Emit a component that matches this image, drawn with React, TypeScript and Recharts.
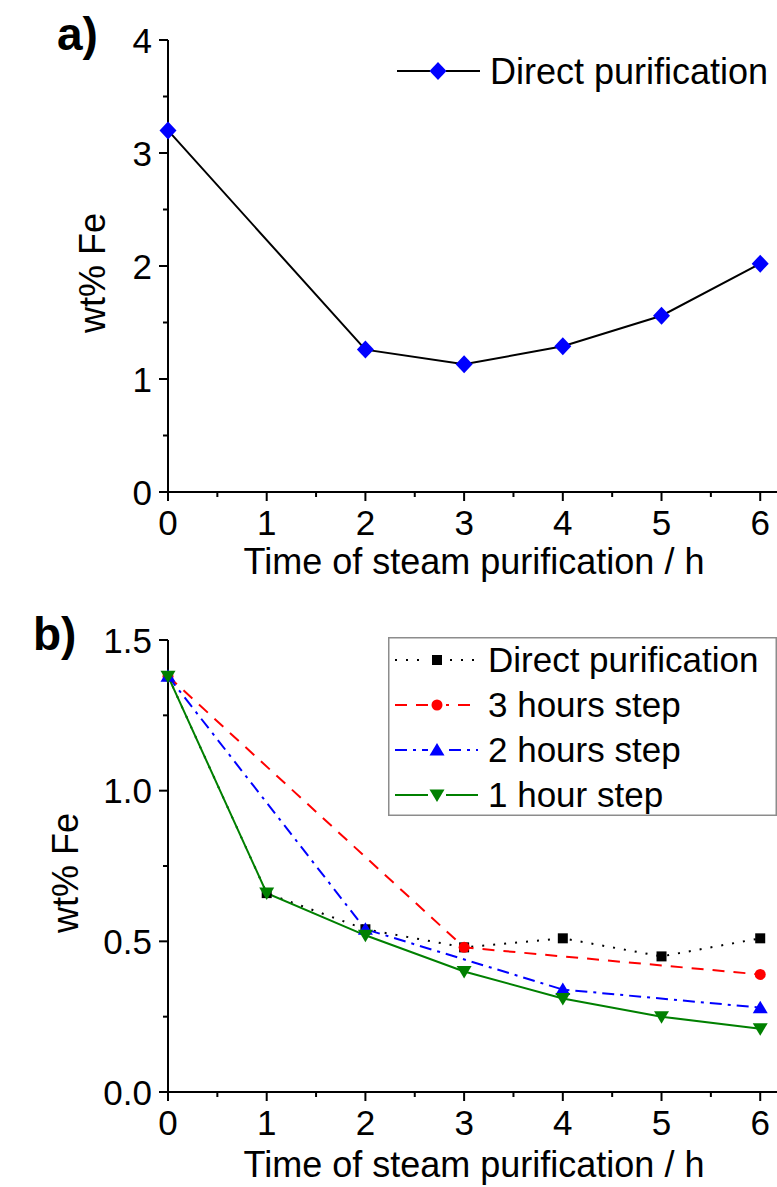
import React from "react";
import { LineChart, Line, XAxis, YAxis, Legend, Label } from "recharts";

const FONT = '"Liberation Sans", Arial, Helvetica, sans-serif';

// panel a) – direct purification only
const HOURS_A = [0, 2, 3, 4, 5, 6];
const FE_DIRECT_A = [3.2, 1.26, 1.13, 1.29, 1.56, 2.02];

// panel b) – stepwise purification
const HOURS_DIRECT = [0, 1, 2, 3, 4, 5, 6];
const FE_DIRECT_B = [1.38, 0.66, 0.54, 0.48, 0.51, 0.45, 0.51];
const HOURS_STEP3 = [0, 3, 6];
const FE_STEP3 = [1.38, 0.48, 0.39];
const HOURS_STEP2 = [0, 2, 4, 6];
const FE_STEP2 = [1.38, 0.54, 0.34, 0.28];
const HOURS_STEP1 = [0, 1, 2, 3, 4, 5, 6];
const FE_STEP1 = [1.38, 0.66, 0.52, 0.4, 0.31, 0.25, 0.21];

const X_TICKS = [0, 0.5, 1, 1.5, 2, 2.5, 3, 3.5, 4, 4.5, 5, 5.5, 6];
const Y_TICKS_A = [0, 0.5, 1, 1.5, 2, 2.5, 3, 3.5, 4];
const Y_TICKS_B = [0, 0.25, 0.5, 0.75, 1, 1.25, 1.5];

const X_TITLE = "Time of steam purification / h";
const Y_TITLE = "wt% Fe";
const X_MAX = 6.17;

const CHART_W = 777;
const AXIS_W = 168;
const XAXIS_H = 80;

type Shape = "diamond" | "square" | "circle" | "up" | "down";

const SERIES_B = [
  { name: "Direct purification", xs: HOURS_DIRECT, ys: FE_DIRECT_B, color: "#000000", dash: "2 9", shape: "square" as Shape },
  { name: "3 hours step", xs: HOURS_STEP3, ys: FE_STEP3, color: "#ff0000", dash: "12 9", shape: "circle" as Shape },
  { name: "2 hours step", xs: HOURS_STEP2, ys: FE_STEP2, color: "#0000ff", dash: "12 6 3 6", shape: "up" as Shape },
  { name: "1 hour step", xs: HOURS_STEP1, ys: FE_STEP1, color: "#008000", dash: undefined, shape: "down" as Shape },
];

const toRows = (xs: number[], ys: number[]) => xs.map((h, i) => ({ hour: h, fe: ys[i] }));

function Marker({ shape, cx, cy, fill }: { shape: Shape; cx?: number; cy?: number; fill: string }) {
  if (cx == null || cy == null) return null;
  switch (shape) {
    case "diamond":
      return <path d={`M${cx},${cy - 9}L${cx + 8.5},${cy}L${cx},${cy + 9}L${cx - 8.5},${cy}Z`} fill={fill} />;
    case "square":
      return <rect x={cx - 5} y={cy - 5} width={10} height={10} fill={fill} />;
    case "circle":
      return <circle cx={cx} cy={cy} r={5.5} fill={fill} />;
    case "up":
      return <path d={`M${cx},${cy - 7}L${cx + 7.5},${cy + 5.5}L${cx - 7.5},${cy + 5.5}Z`} fill={fill} />;
    case "down":
      return <path d={`M${cx},${cy + 7}L${cx + 7.5},${cy - 5.5}L${cx - 7.5},${cy - 5.5}Z`} fill={fill} />;
  }
  return null;
}

const isMajor = (v: number, step: number) => Math.abs(v / step - Math.round(v / step)) < 1e-6;

function makeYTick(step: number, decimals: number) {
  return (props: any) => {
    const { x, y, payload } = props;
    const v = payload.value as number;
    const major = isMajor(v, step);
    return (
      <g>
        <line x1={x} x2={x - (major ? 9 : 5)} y1={y} y2={y} stroke="#000" strokeWidth={2} />
        {major && (
          <text x={x - 16} y={y} dy="0.36em" textAnchor="end" fontSize={35} fontFamily={FONT} fill="#000">
            {v.toFixed(decimals)}
          </text>
        )}
      </g>
    );
  };
}

const XTick = (props: any) => {
  const { x, y, payload } = props;
  const v = payload.value as number;
  const major = isMajor(v, 1);
  return (
    <g>
      <line x1={x} x2={x} y1={y} y2={y + (major ? 9 : 5)} stroke="#000" strokeWidth={2} />
      {major && (
        <text x={x} y={y + 43} textAnchor="middle" fontSize={35} fontFamily={FONT} fill="#000">
          {v}
        </text>
      )}
    </g>
  );
};

function PanelTitles({ letter, letterX, titleX }: { letter: string; letterX: number; titleX: number }) {
  return (
    <g fontFamily={FONT} fill="#000">
      <text x={letterX} y={50} fontSize={46} fontWeight="bold">
        {letter}
      </text>
      <text x={titleX} y={273} dy="0.36em" textAnchor="middle" fontSize={36} transform={`rotate(-90 ${titleX} 273)`}>
        {Y_TITLE}
      </text>
    </g>
  );
}

function XTitle({ baseline }: { baseline: number }) {
  return (
    <text x={474} y={baseline} textAnchor="middle" fontSize={36} fontFamily={FONT} fill="#000">
      {X_TITLE}
    </text>
  );
}

function LegendA(props: any) {
  const name = props.payload?.[0]?.value ?? "Direct purification";
  return (
    <svg width={380} height={44} style={{ display: "block", overflow: "visible" }}>
      <line x1={0} x2={33} y1={20} y2={20} stroke="#000" strokeWidth={2} />
      <line x1={49} x2={83} y1={20} y2={20} stroke="#000" strokeWidth={2} />
      <Marker shape="diamond" cx={41} cy={20} fill="#0000ff" />
      <text x={93} y={20} dy="0.36em" fontSize={36} fontFamily={FONT} fill="#000">
        {name}
      </text>
    </svg>
  );
}

function LegendB(props: any) {
  const entries = [...(props.payload ?? [])].sort(
    (a: any, b: any) =>
      SERIES_B.findIndex((s) => s.name === a.value) - SERIES_B.findIndex((s) => s.name === b.value)
  );
  return (
    <svg width={389} height={179} style={{ display: "block", overflow: "visible" }}>
      <rect x={0.75} y={0.75} width={387.5} height={177.5} fill="#fff" stroke="#8c8c8c" strokeWidth={1.5} />
      {entries.map((e: any, i: number) => {
        const s = SERIES_B.find((d) => d.name === e.value);
        if (!s) return null;
        const cy = 23 + i * 45;
        return (
          <g key={s.name}>
            <line x1={7} x2={90} y1={cy} y2={cy} stroke={s.color} strokeWidth={2} strokeDasharray={s.dash} />
            <rect x={40} y={cy - 8} width={18} height={16} fill="#fff" />
            <Marker shape={s.shape} cx={49} cy={cy} fill={s.color} />
            <text x={100} y={cy} dy="0.35em" fontSize={35} fontFamily={FONT} fill="#000">
              {s.name}
            </text>
          </g>
        );
      })}
    </svg>
  );
}

export default function App() {
  const axisLine = { stroke: "#000", strokeWidth: 2 };
  return (
    <div style={{ position: "absolute", left: 0, top: 0, width: CHART_W, height: 1187, background: "#fff" }}>
      <div style={{ position: "absolute", left: 0, top: 0 }}>
        <LineChart width={CHART_W} height={600} margin={{ top: 40, right: 0, bottom: 600 - 492 - XAXIS_H, left: 0 }}>
          <XAxis
            type="number"
            dataKey="hour"
            domain={[0, X_MAX]}
            ticks={X_TICKS}
            interval={0}
            height={XAXIS_H}
            tickSize={0}
            tickMargin={0}
            tick={XTick}
            axisLine={axisLine}
          >
            <Label content={() => <XTitle baseline={574} />} />
          </XAxis>
          <YAxis
            type="number"
            domain={[0, 4]}
            ticks={Y_TICKS_A}
            interval={0}
            width={AXIS_W}
            tickSize={0}
            tickMargin={0}
            tick={makeYTick(1, 0)}
            axisLine={axisLine}
          >
            <Label content={() => <PanelTitles letter="a)" letterX={57} titleX={92} />} />
          </YAxis>
          <Legend
            layout="horizontal"
            verticalAlign="middle"
            align="center"
            wrapperStyle={{ left: 397, top: 51, width: 380, height: 44 }}
            content={LegendA}
          />
          <Line
            name="Direct purification"
            data={toRows(HOURS_A, FE_DIRECT_A)}
            dataKey="fe"
            stroke="#000"
            strokeWidth={2}
            dot={(p: any) => <Marker key={`a-${p.index}`} shape="diamond" cx={p.cx} cy={p.cy} fill="#0000ff" />}
            activeDot={false}
            isAnimationActive={false}
          />
        </LineChart>
      </div>

      <div style={{ position: "absolute", left: 0, top: 600 }}>
        <LineChart width={CHART_W} height={587} margin={{ top: 40, right: 0, bottom: 587 - 492 - XAXIS_H, left: 0 }}>
          <XAxis
            type="number"
            dataKey="hour"
            domain={[0, X_MAX]}
            ticks={X_TICKS}
            interval={0}
            height={XAXIS_H}
            tickSize={0}
            tickMargin={0}
            tick={XTick}
            axisLine={axisLine}
          >
            <Label content={() => <XTitle baseline={577} />} />
          </XAxis>
          <YAxis
            type="number"
            domain={[0, 1.5]}
            ticks={Y_TICKS_B}
            interval={0}
            width={AXIS_W}
            tickSize={0}
            tickMargin={0}
            tick={makeYTick(0.5, 1)}
            axisLine={axisLine}
          >
            <Label content={() => <PanelTitles letter="b)" letterX={33} titleX={65} />} />
          </YAxis>
          <Legend
            layout="horizontal"
            verticalAlign="middle"
            align="center"
            wrapperStyle={{ left: 388, top: 37, width: 389, height: 179 }}
            content={LegendB}
          />
          {SERIES_B.map((s) => (
            <Line
              key={s.name}
              name={s.name}
              data={toRows(s.xs, s.ys)}
              dataKey="fe"
              stroke={s.color}
              strokeWidth={2}
              strokeDasharray={s.dash}
              dot={(p: any) => <Marker key={`${s.name}-${p.index}`} shape={s.shape} cx={p.cx} cy={p.cy} fill={s.color} />}
              activeDot={false}
              isAnimationActive={false}
            />
          ))}
        </LineChart>
      </div>
    </div>
  );
}
